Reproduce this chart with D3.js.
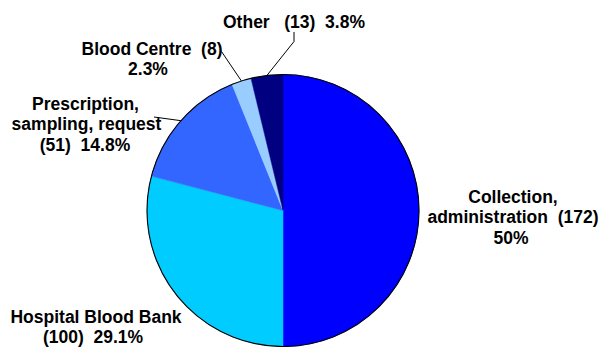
<!DOCTYPE html>
<html>
<head>
<meta charset="utf-8">
<script src="https://cdn.jsdelivr.net/npm/d3@7"></script>
<style>
  html, body { margin: 0; padding: 0; background: #fff; }
  svg { display: block; }
  text { font-family: "Liberation Sans", Arial, sans-serif; font-weight: bold; font-size: 17.5px; fill: #000; white-space: pre; }
</style>
</head>
<body>
<svg id="chart" width="601" height="347"></svg>
<script>
// Reported incidents by stage of the transfusion process
const categories = ["Collection, administration", "Hospital Blood Bank", "Prescription, sampling, request", "Blood Centre", "Other"];
const counts = [172, 100, 51, 8, 13];
const percentLabels = ["50%", "29.1%", "14.8%", "2.3%", "3.8%"];
const sliceColors = ["#0000ff", "#00ccff", "#3366ff", "#99ccff", "#000080"];

// Text of each label, one entry per line
const labelText = [
  ["Collection,", "administration  (172)", percentLabels[0]],
  ["Hospital Blood Bank", "(100)  " + percentLabels[1]],
  ["Prescription,", "sampling, request", "(51)  " + percentLabels[2]],
  ["Blood Centre  (8)", percentLabels[3]],
  ["Other   (13)  " + percentLabels[4]]
];

const svg = d3.select("#chart");
const cx = 283, cy = 210.5, r = 136;

// Label placement: centre x for each line, first baseline, line height, optional leader path
const labelLayout = [
  { xs: [513, 513, 511], y: 203, lh: 20.3, leader: null },
  { xs: [96, 93], y: 322.5, lh: 20, leader: null },
  { xs: [85.5, 86.5, 85], y: 109.5, lh: 20.5, leader: [[154, 117]] },
  { xs: [152, 148], y: 54.5, lh: 20.5, leader: [[221.5, 51.5]] },
  { xs: [294], y: 27.5, lh: 20, leader: [[294, 41.5], [294, 32]] }
];

const data = categories.map((c, i) => ({ category: c, count: counts[i], color: sliceColors[i], lines: labelText[i], layout: labelLayout[i] }));

const pie = d3.pie().sort(null).value(d => d.count).startAngle(0).endAngle(2 * Math.PI);
const arcs = pie(data);
const arc = d3.arc().innerRadius(0).outerRadius(r);

const g = svg.append("g").attr("transform", `translate(${cx},${cy})`);

g.selectAll("path.slice")
  .data(arcs)
  .join("path")
  .attr("class", "slice")
  .attr("d", arc)
  .attr("fill", d => d.data.color)
  .attr("stroke", d => d.data.color)
  .attr("stroke-width", 0.5);

// Outer rim of the pie
g.append("circle")
  .attr("r", r)
  .attr("fill", "none")
  .attr("stroke", "#000")
  .attr("stroke-width", 1.1);

// Leader lines from the middle of a slice's rim to its label
const line = d3.line();
arcs.filter(a => a.data.layout.leader).forEach(a => {
  const mid = (a.startAngle + a.endAngle) / 2;
  const start = [cx + r * Math.sin(mid), cy - r * Math.cos(mid)];
  svg.append("path")
    .attr("d", line([start, ...a.data.layout.leader]))
    .attr("fill", "none")
    .attr("stroke", "#000")
    .attr("stroke-width", 1);
});

// Labels
arcs.forEach(a => {
  const L = a.data.layout;
  const t = svg.append("text").attr("text-anchor", "middle");
  a.data.lines.forEach((s, j) => {
    t.append("tspan")
      .attr("x", L.xs[j])
      .attr("y", L.y + j * L.lh)
      .text(s);
  });
});
</script>
</body>
</html>
